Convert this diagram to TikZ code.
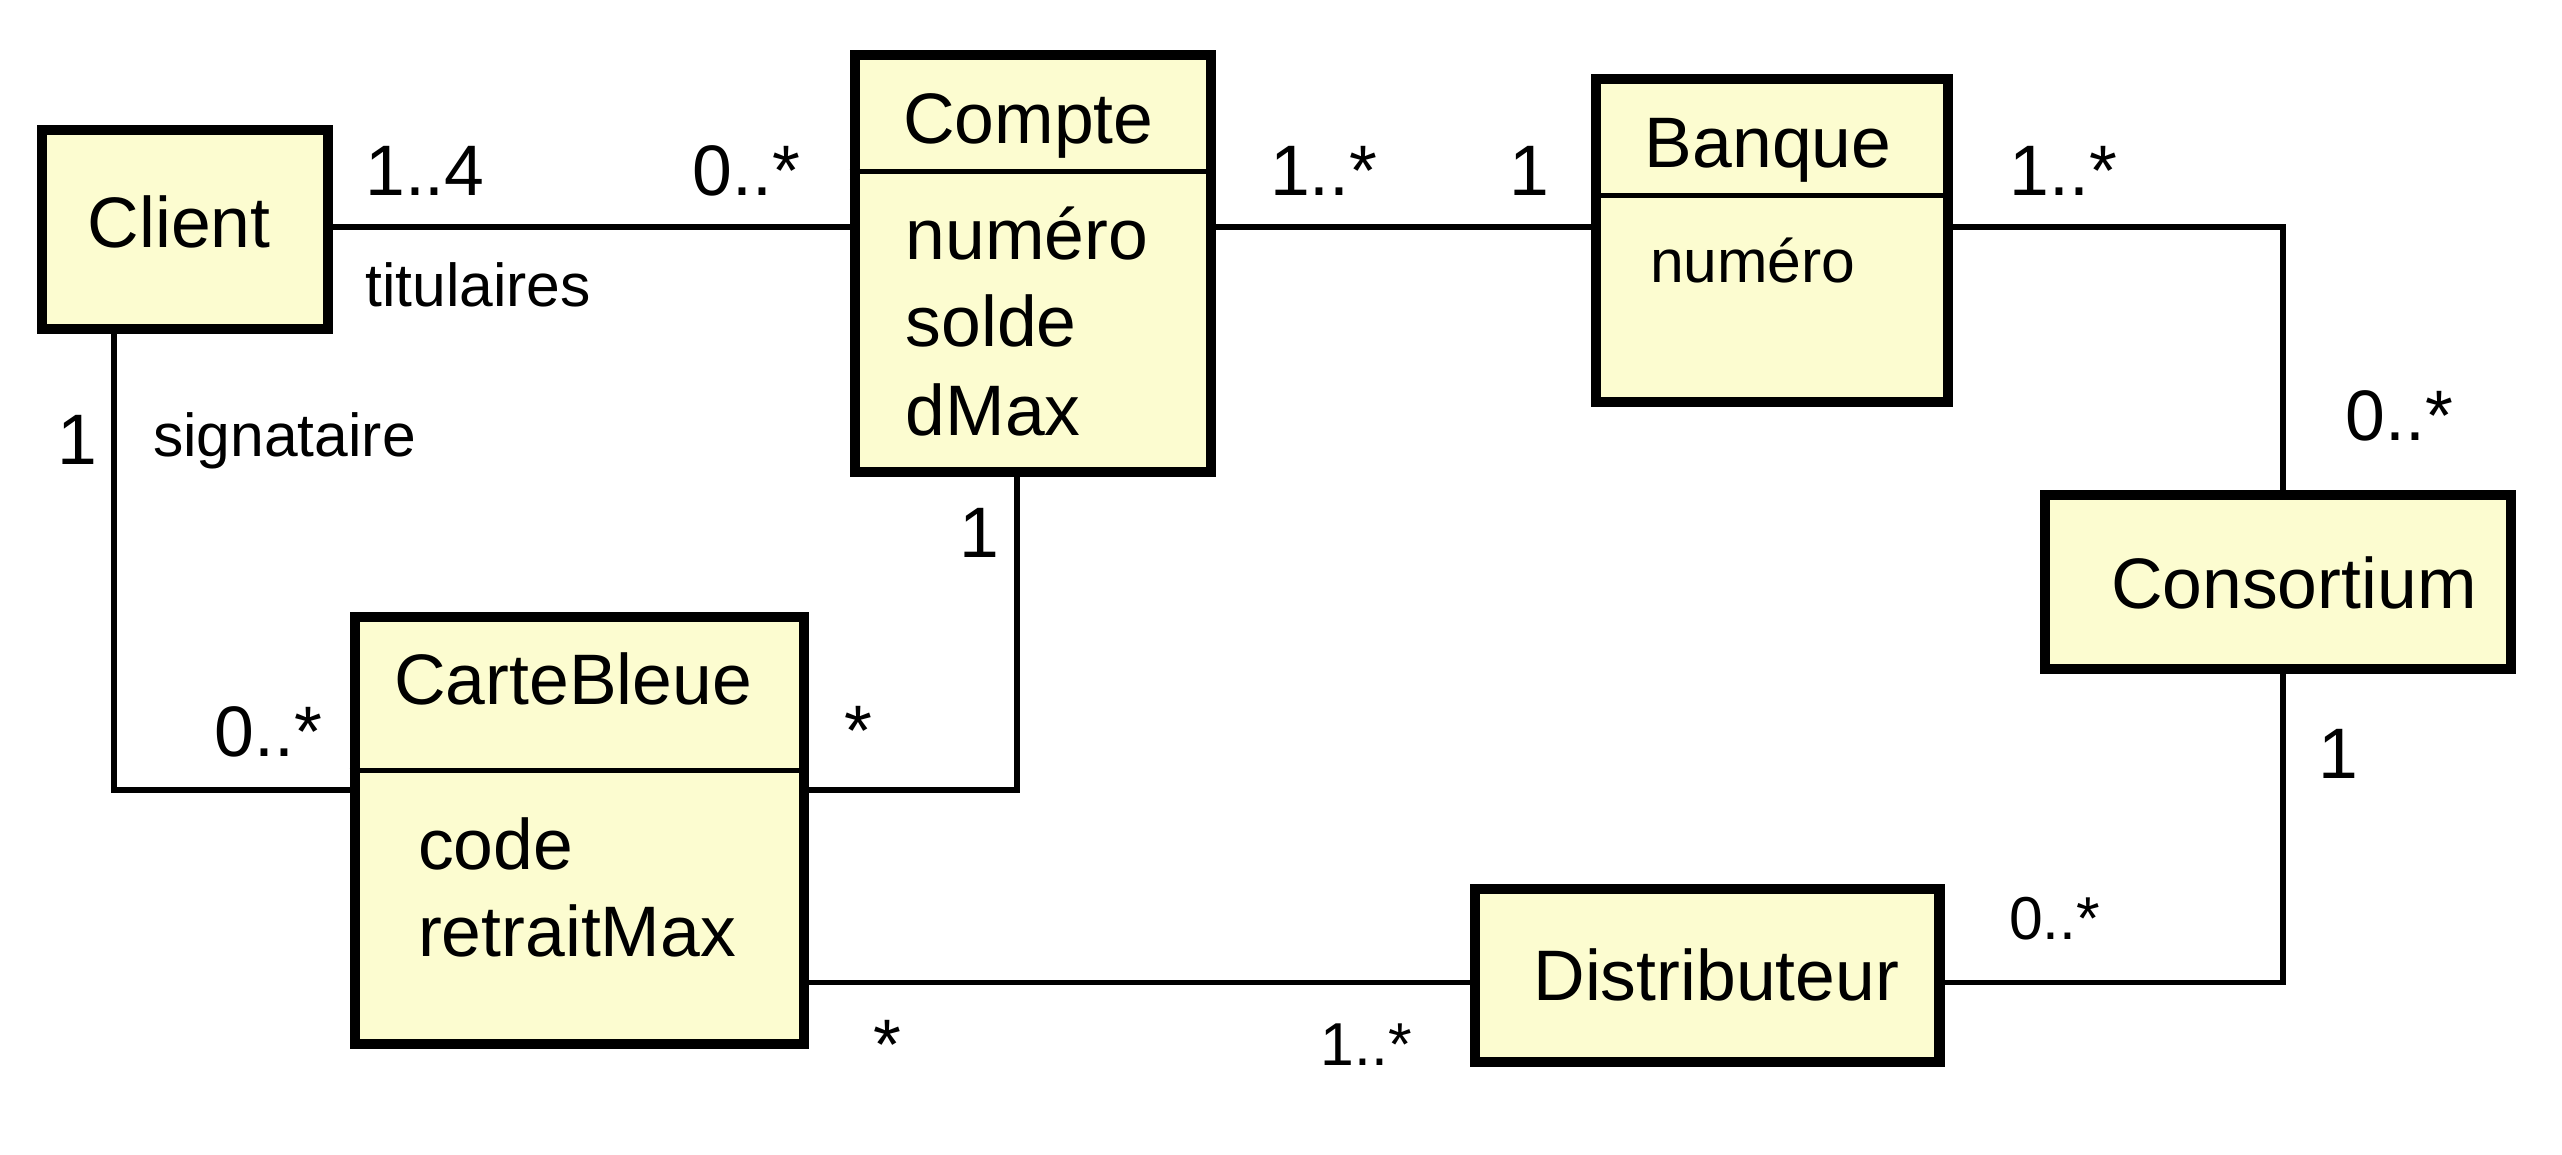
\documentclass[tikz,border=0pt]{standalone}
\usepackage{fontspec}
\setmainfont{Liberation Sans}
\usepackage{tikz}
\usetikzlibrary{arrows,shapes,positioning}
\definecolor{jaune}{RGB}{252,252,208}
\newcommand{\grand}{\fontsize{12.45}{15}\selectfont}
\newcommand{\petit}{\fontsize{10.55}{13}\selectfont}

\begin{document}
\begin{tikzpicture}[classe/.style={draw,line width=1.75pt,fill=jaune,inner sep=0pt},
  lien/.style={line width=1pt}, trait/.style={line width=.9pt},
  txt/.style={anchor=base west,inner sep=0pt,font=\grand},
  ptxt/.style={anchor=base west,inner sep=0pt,font=\petit}]%diagramme de classes banque
\useasboundingbox (0,0) rectangle (15.68,7.063);
%points where the associations bend
\coordinate (haut) at (0,5.673); \coordinate (bas) at (0,1.05);
\coordinate (coin) at (0.697,2.227); \coordinate (cb) at (6.225,2.227); \coordinate (col) at (13.974,0);
%the classes
\node[classe,minimum width=1.755cm,minimum height=1.214cm] (client) at (1.132,5.6575) {};
\node[classe,minimum width=2.179cm,minimum height=2.553cm] (compte) at (6.3195,5.4495) {};
\node[classe,minimum width=2.15cm,minimum height=1.98cm] (banque) at (10.845,5.59) {};
\node[classe,minimum width=2.855cm,minimum height=1.061cm] (consortium) at (13.9425,3.5005) {};
\node[classe,minimum width=2.84cm,minimum height=1.057cm] (distributeur) at (10.45,1.0915) {};
\node[classe,minimum width=2.75cm,minimum height=2.61cm] (cartebleue) at (3.545,1.98) {};
%compartments
\draw[trait] (compte.west |- 0,6.013) -- (compte.east |- 0,6.013);
\draw[trait] (banque.west |- 0,5.866) -- (banque.east |- 0,5.866);
\draw[trait] (cartebleue.west |- 0,2.346) -- (cartebleue.east |- 0,2.346);
%names and attributes
\node[txt] (nclient) at (0.53,5.55) {Client};
\node[txt] (ncompte) at (5.52,6.182) {Compte};
\node[txt] (numero) at (5.537,5.475) {numéro}; \node[txt] (solde) at (5.537,4.945) {solde}; \node[txt] (dmax) at (5.537,4.395) {dMax};
\node[txt] (nbanque) at (10.06,6.035) {Banque}; \node[ptxt] (bnumero) at (10.092,5.337) {numéro};
\node[txt] (nconsortium) at (12.913,3.337) {Consortium};
\node[txt] (ndistributeur) at (9.378,0.94) {Distributeur};
\node[txt] (ncartebleue) at (2.406,2.752) {CarteBleue};
\node[txt] (code) at (2.552,1.74) {code}; \node[txt] (retrait) at (2.552,1.21) {retraitMax};
%associations
\draw[lien] (client.east |- haut) -- (compte.west |- haut);
\draw[lien] (compte.east |- haut) -- (banque.west |- haut);
\draw[lien] (banque.east |- haut) -| (consortium.north -| col);
\draw[lien] (consortium.south -| col) |- (distributeur.east |- bas);
\draw[lien] (cartebleue.east |- bas) -- (distributeur.west |- bas);
\draw[lien] (cartebleue.east |- cb) -| (compte.south -| cb);
\draw[lien] (client.south -| coin) |- (cartebleue.west |- coin);
%multiplicities and roles
\node[txt] (m14) at (2.229,5.866) {1..4}; \node[txt] (m0a) at (4.233,5.866) {0..*};
\node[ptxt] (titulaires) at (2.229,5.19) {titulaires};
\node[txt] (m1a) at (7.767,5.866) {1..*}; \node[txt] (m1b) at (9.234,5.866) {1};
\node[txt] (m1c) at (12.294,5.866) {1..*}; \node[txt] (m0b) at (14.348,4.37) {0..*};
\node[txt] (m1d) at (14.184,2.30) {1}; \node[ptxt] (m0c) at (12.29,1.31) {0..*};
\node[ptxt] (m1e) at (8.076,0.544) {1..*}; \node[txt] (ms1) at (5.337,0.516) {*};
\node[txt] (m1f) at (0.344,4.222) {1}; \node[ptxt] (signataire) at (0.93,4.27) {signataire};
\node[txt] (m1g) at (5.864,3.65) {1}; \node[txt] (ms2) at (5.162,2.44) {*};
\node[txt] (m0d) at (1.308,2.436) {0..*};
\end{tikzpicture}
\end{document}
